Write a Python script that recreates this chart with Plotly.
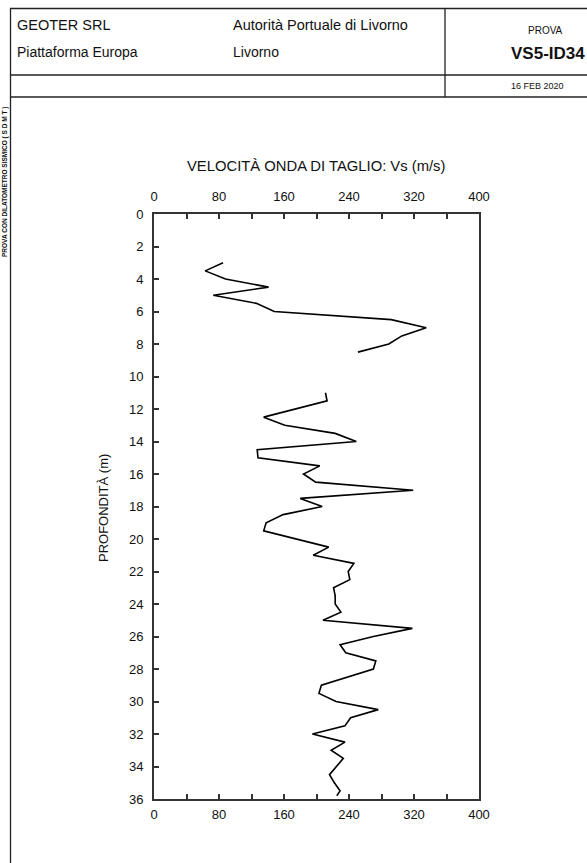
import plotly.graph_objects as go

# Shear-wave velocity profile from the seismic dilatometer test (SDMT)
depth_m = [3.0, 3.5, 4.0, 4.5, 5.0, 5.5, 6.0, 6.5, 7.0, 7.5, 8.0, 8.5,
           None,
           11.0, 11.5, 12.5, 13.0, 13.5, 14.0, 14.5, 15.0, 15.5, 16.0, 16.5,
           17.0, 17.5, 18.0, 18.5, 19.0, 19.5, 20.0, 20.5, 21.0, 21.5, 22.0,
           22.5, 23.0, 23.5, 24.0, 24.5, 25.0, 25.5, 26.0, 26.5, 27.0, 27.5,
           28.0, 28.5, 29.0, 29.5, 30.0, 30.5, 31.0, 31.5, 32.0, 32.5, 33.0,
           33.5, 34.0, 34.5, 35.0, 35.5, 35.8]
vs_ms = [85, 63, 88, 141, 73, 126, 148, 292, 335, 305, 289, 251,
         None,
         211, 213, 135, 161, 223, 249, 127, 128, 204, 184, 199,
         319, 180, 207, 159, 138, 135, 175, 215, 196, 246, 239,
         241, 221, 223, 223, 230, 208, 318, 270, 229, 236, 273,
         270, 238, 206, 203, 224, 276, 242, 235, 195, 235, 218,
         233, 224, 216, 222, 229, 225]

x_ticks = [0, 80, 160, 240, 320, 400]
y_ticks = list(range(0, 37, 2))

# Page geometry (pixels) and plot area
FIG_W, FIG_H = 587, 863
L, R, T, B = 154, 479, 214, 799
PW, PH = R - L, B - T


def px(x):
    return (x - L) / PW


def py(y):
    return (B - y) / PH


FONT = "Liberation Sans, Arial, sans-serif"
INK = "#111"

fig = go.Figure()
fig.add_trace(go.Scatter(
    x=vs_ms, y=depth_m, mode="lines",
    line=dict(color="black", width=1.6),
    connectgaps=False, hoverinfo="skip", showlegend=False,
    xaxis="x", yaxis="y",
))
# companion trace so the bottom velocity axis is drawn
fig.add_trace(go.Scatter(
    x=[0, 400], y=[0, 0], mode="lines", line=dict(width=0),
    hoverinfo="skip", showlegend=False, xaxis="x2", yaxis="y",
))


def velocity_axis(side, standoff):
    return dict(
        side=side,
        range=[0, 400], tickvals=x_ticks, ticktext=[str(v) for v in x_ticks],
        ticks="inside", ticklen=5, tickwidth=1.5, tickcolor="#333",
        minor=dict(dtick=40, tick0=0, ticks="inside", ticklen=5,
                   tickwidth=1.5, tickcolor="#333", showgrid=False),
        showline=True, linecolor="#333", linewidth=2,
        showgrid=False, zeroline=False,
        tickfont=dict(family=FONT, size=13, color=INK),
        ticklabelstandoff=standoff,
    )


shapes = []


def hline(y, x0, x1, w=1.3):
    shapes.append(dict(type="line", xref="paper", yref="paper",
                       x0=px(x0), x1=px(x1), y0=py(y), y1=py(y),
                       line=dict(color="#222", width=w)))


def vline(x, y0, y1, w=1.3):
    shapes.append(dict(type="line", xref="paper", yref="paper",
                       x0=px(x), x1=px(x), y0=py(y0), y1=py(y1),
                       line=dict(color="#222", width=w)))


# title block frame
hline(8.5, 10, FIG_W)
hline(75, 10, FIG_W)
hline(97, 10, FIG_W, 1.6)
vline(10.5, 8.5, FIG_H)
vline(445, 8.5, 97)

annotations = []


def text(s, x, y, size, anchor="left", bold=False, angle=0):
    annotations.append(dict(
        text=f"<b>{s}</b>" if bold else s,
        xref="paper", yref="paper", x=px(x), y=py(y),
        xanchor=anchor, yanchor="middle", showarrow=False,
        textangle=angle,
        font=dict(family=FONT, size=size, color=INK),
    ))


text("GEOTER SRL", 15, 25, 14.5)
text("Piattaforma Europa", 15, 52, 14)
text("Autorità Portuale di Livorno", 231, 25, 14.5)
text("Livorno", 231, 52, 14)
text("PROVA", 545, 30, 10, anchor="center")
text("VS5-ID34", 509, 53, 17, bold=True)
text("16 FEB 2020", 537, 86, 9, anchor="center")
text("PROVA CON DILATOMETRO SISMICO ( S D M T )", 5, 182, 6.5,
     anchor="center", bold=True, angle=-90)
text("VELOCITÀ ONDA DI TAGLIO: Vs (m/s)", 316, 166, 14.8, anchor="center")
text("PROFONDITÀ (m)", 103, 508, 13, anchor="center", angle=-90)

fig.update_layout(
    width=FIG_W, height=FIG_H,
    margin=dict(l=L, r=FIG_W - R, t=T, b=FIG_H - B, pad=0),
    paper_bgcolor="white", plot_bgcolor="white",
    xaxis=velocity_axis("top", 6),
    xaxis2=dict(overlaying="x", matches="x", anchor="y",
                **velocity_axis("bottom", 2)),
    yaxis=dict(
        range=[36, 0], tickvals=y_ticks,
        ticks="inside", ticklen=5, tickwidth=1.5, tickcolor="#333",
        showline=True, mirror=True, linecolor="#333", linewidth=2,
        showgrid=False, zeroline=False,
        tickfont=dict(family=FONT, size=13, color=INK),
        ticklabelstandoff=6,
    ),
    shapes=shapes,
    annotations=annotations,
    showlegend=False,
)

fig.write_html("out.html")
